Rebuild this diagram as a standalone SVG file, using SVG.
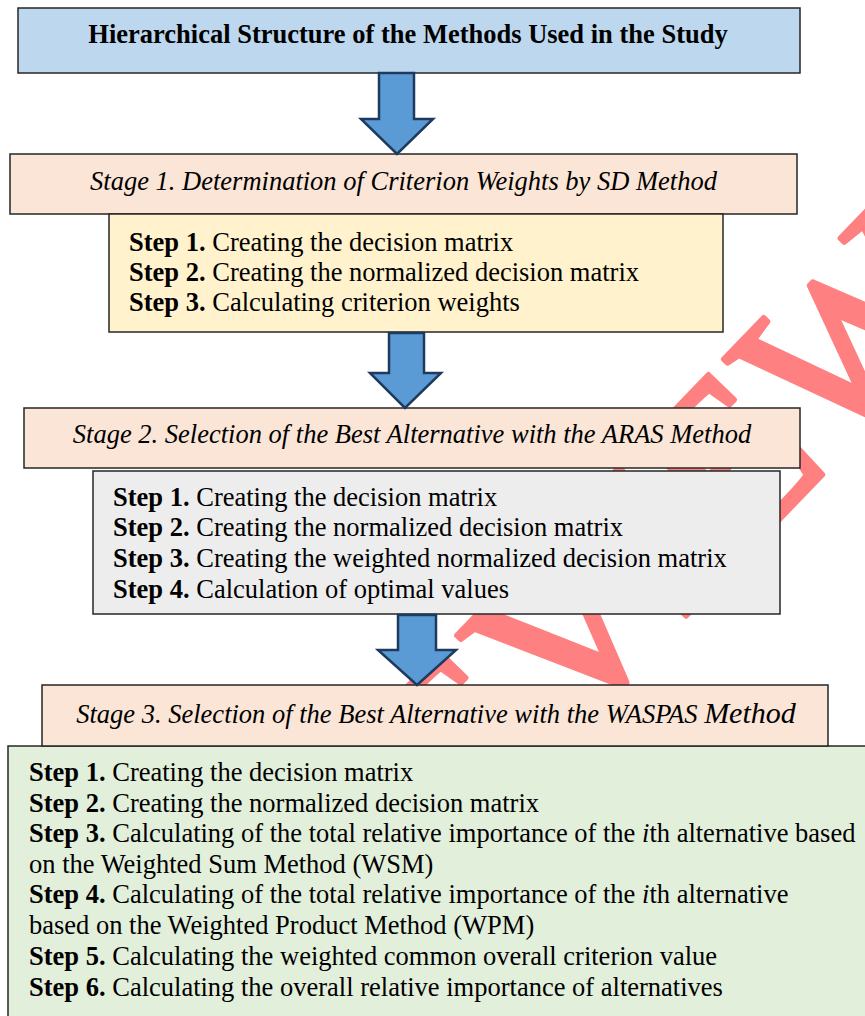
<svg xmlns="http://www.w3.org/2000/svg" width="865" height="1016" viewBox="0 0 865 1016">
<style>
  .t { font-family: "Liberation Serif", "Times New Roman", serif; fill: #000; }
  .title { font-size: 26.5px; font-weight: bold; text-anchor: middle; }
  .stage { font-size: 26.5px; font-style: italic; text-anchor: middle; }
  .step { font-size: 26.5px; }
  .b { font-weight: bold; }
  .box { stroke: #262626; stroke-width: 1.5; }
  .arrow { fill: #5B9BD5; stroke: #1F3A5F; stroke-width: 2.5; stroke-linejoin: miter; }
  .wm { font-family: "Liberation Serif", "Times New Roman", serif; font-size: 232px; fill: #FF8080; stroke: #FF8080; stroke-width: 5; stroke-linejoin: round; }
</style>
<rect x="0" y="0" width="865" height="1016" fill="#FFFFFF"/>
<g id="watermark">
  <text class="wm" transform="translate(358,956) rotate(-46)" x="0" y="0">REVIEW</text>
</g>
<g id="title">
  <rect class="box" x="18" y="8" width="782" height="65" fill="#BDD7EE"/>
  <text class="t title" x="408" y="43">Hierarchical Structure of the Methods Used in the Study</text>
</g>
<g id="stage1">
  <rect class="box" x="10" y="154" width="787" height="60" fill="#FBE5D6"/>
  <text class="t stage" x="403.5" y="190">Stage 1. Determination of Criterion Weights by SD Method</text>
</g>
<g id="stage1-steps">
  <rect class="box" x="109" y="214" width="614" height="118" fill="#FFF2CC"/>
  <text class="t step" x="129" y="251"><tspan class="b">Step 1.</tspan> Creating the decision matrix</text>
  <text class="t step" x="129" y="281"><tspan class="b">Step 2.</tspan> Creating the normalized decision matrix</text>
  <text class="t step" x="129" y="311"><tspan class="b">Step 3.</tspan> Calculating criterion weights</text>
</g>
<g id="stage2">
  <rect class="box" x="24" y="408" width="776" height="60" fill="#FBE5D6"/>
  <text class="t stage" x="412" y="443">Stage 2. Selection of the Best Alternative with the ARAS Method</text>
</g>
<g id="stage2-steps">
  <rect class="box" x="93" y="471" width="687" height="143" fill="#EDEDED"/>
  <text class="t step" x="113" y="506"><tspan class="b">Step 1.</tspan> Creating the decision matrix</text>
  <text class="t step" x="113" y="536"><tspan class="b">Step 2.</tspan> Creating the normalized decision matrix</text>
  <text class="t step" x="113" y="567"><tspan class="b">Step 3.</tspan> Creating the weighted normalized decision matrix</text>
  <text class="t step" x="113" y="598"><tspan class="b">Step 4.</tspan> Calculation of optimal values</text>
</g>
<g id="stage3-steps">
  <rect class="box" x="8" y="746" width="880" height="290" fill="#E2EFDA"/>
  <text class="t step" x="29" y="781"><tspan class="b">Step 1.</tspan> Creating the decision matrix</text>
  <text class="t step" x="29" y="812"><tspan class="b">Step 2.</tspan> Creating the normalized decision matrix</text>
  <text class="t step" x="29" y="842"><tspan class="b">Step 3.</tspan> Calculating of the total relative importance of the <tspan font-style="italic">i</tspan>th alternative based</text>
  <text class="t step" x="29" y="873">on the Weighted Sum Method (WSM)</text>
  <text class="t step" x="29" y="903"><tspan class="b">Step 4.</tspan> Calculating of the total relative importance of the <tspan font-style="italic">i</tspan>th alternative</text>
  <text class="t step" x="29" y="934">based on the Weighted Product Method (WPM)</text>
  <text class="t step" x="29" y="965"><tspan class="b">Step 5.</tspan> Calculating the weighted common overall criterion value</text>
  <text class="t step" x="29" y="996"><tspan class="b">Step 6.</tspan> Calculating the overall relative importance of alternatives</text>
</g>
<g id="stage3">
  <rect class="box" x="42" y="685" width="786" height="61" fill="#FBE5D6"/>
  <text class="t stage" x="436" y="723">Stage 3. Selection of the Best Alternative with the WASPAS <tspan font-size="30px">Method</tspan></text>
</g>
<g id="connectors">
  <path class="arrow" d="M379,73 L414,73 L414,119 L433,119 L397,154 L361,119 L379,119 Z"/>
  <path class="arrow" d="M389,333 L424,333 L424,373 L441,373 L405,408 L370,373 L389,373 Z"/>
  <path class="arrow" d="M398,615 L436,615 L436,650 L456,650 L417,685 L378,650 L398,650 Z"/>
</g>
</svg>
